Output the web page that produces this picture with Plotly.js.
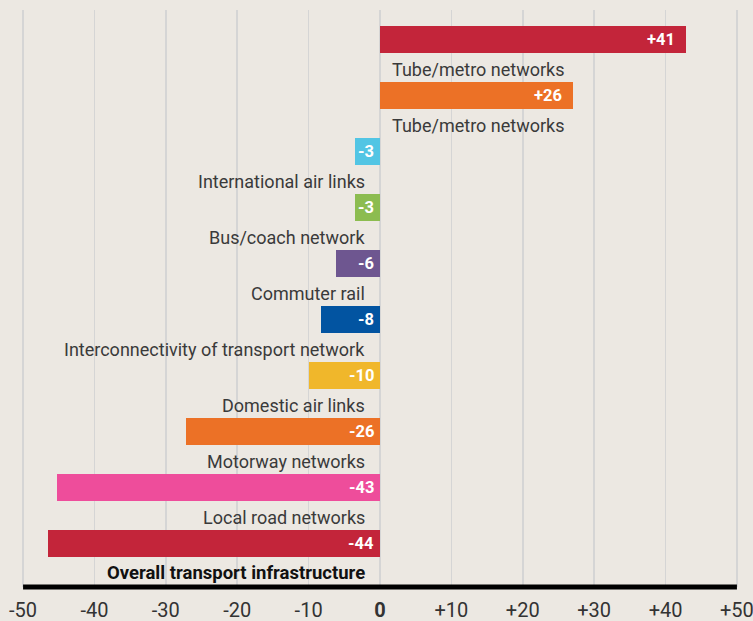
<!DOCTYPE html>
<html>
<head>
<meta charset="utf-8">
<script src="https://cdn.plot.ly/plotly-3.0.1.min.js"></script>
<style>html,body{margin:0;padding:0;background:#ECE8E2;}#chart{width:753px;height:621px;}</style>
</head>
<body>
<div id="chart"></div>
<script>
// Data
const categories = [
  "Tube/metro networks",
  "Tube/metro networks",
  "International air links",
  "Bus/coach network",
  "Commuter rail",
  "Interconnectivity of transport network",
  "Domestic air links",
  "Motorway networks",
  "Local road networks",
  "Overall transport infrastructure"
];
// drawn bar lengths (as measured on the axis)
const barLengths = [42.9, 27.1, -3.5, -3.5, -6.1, -8.2, -10.0, -27.2, -45.3, -46.5];
// printed value labels
const valueLabels = ["+41", "+26", "-3", "-3", "-6", "-8", "-10", "-26", "-43", "-44"];
const barColors = ["#C3253A", "#EC7126", "#52C5E4", "#8CBC50", "#6E5690", "#0254A1", "#F0B72B", "#EC7126", "#EE4D9B", "#C3253A"];
const tickVals = [-50, -40, -30, -20, -10, 0, 10, 20, 30, 40, 50];
const tickLabels = ["-50", "-40", "-30", "-20", "-10", "<b>0</b>", "+10", "+20", "+30", "+40", "+50"];

const idx = categories.map((_, i) => i);
const FONT = "Roboto, 'DejaVu Sans', sans-serif";

const trace = {
  type: "bar",
  orientation: "h",
  x: barLengths,
  y: idx,
  width: 0.48,
  marker: {color: barColors, line: {width: 0}},
  hoverinfo: "skip"
};

const annotations = [];
idx.forEach(i => {
  const v = barLengths[i];
  annotations.push({
    x: Math.max(v, 0), y: i, xref: "x", yref: "y",
    text: "<b>" + valueLabels[i] + "</b>",
    showarrow: false, xanchor: "right", yanchor: "middle",
    xshift: v > 0 ? -9 : -4,
    font: {family: FONT, size: 16.5, color: "#ffffff"}
  });
  const last = i === categories.length - 1;
  annotations.push({
    x: 0, y: i + 0.53, xref: "x", yref: "y",
    text: last ? "<b>" + categories[i] + "</b>" : categories[i],
    showarrow: false,
    xanchor: v > 0 ? "left" : "right", yanchor: "middle",
    xshift: v > 0 ? 10 : -13,
    font: {family: FONT, size: last ? 18.5 : 18, color: last ? "#111111" : "#3a3a3a"}
  });
});

const layout = {
  width: 753, height: 621,
  margin: {l: 22, r: 15, t: 10, b: 34},
  paper_bgcolor: "#ECE8E2",
  plot_bgcolor: "#ECE8E2",
  showlegend: false,
  bargap: 0,
  xaxis: {
    range: [-50.15, 50.15],
    tickvals: tickVals, ticktext: tickLabels,
    showgrid: true, gridcolor: "#D5D5D5", gridwidth: 1.5,
    zeroline: false,
    showline: false,
    ticks: "", ticklabelstandoff: 9,
    ticklabeloverflow: "allow",
    tickfont: {family: FONT, size: 20, color: "#333333"},
    fixedrange: true
  },
  yaxis: {
    range: [9.777, -0.527],
    showticklabels: false, showgrid: false, zeroline: false, showline: false,
    fixedrange: true
  },
  shapes: [{
    type: "line", xref: "x", yref: "paper",
    x0: -50, x1: 50, y0: 0, y1: 0,
    line: {color: "#000000", width: 5}
  }],
  annotations: annotations
};

Plotly.newPlot("chart", [trace], layout, {displayModeBar: false, staticPlot: true});
</script>
</body>
</html>
